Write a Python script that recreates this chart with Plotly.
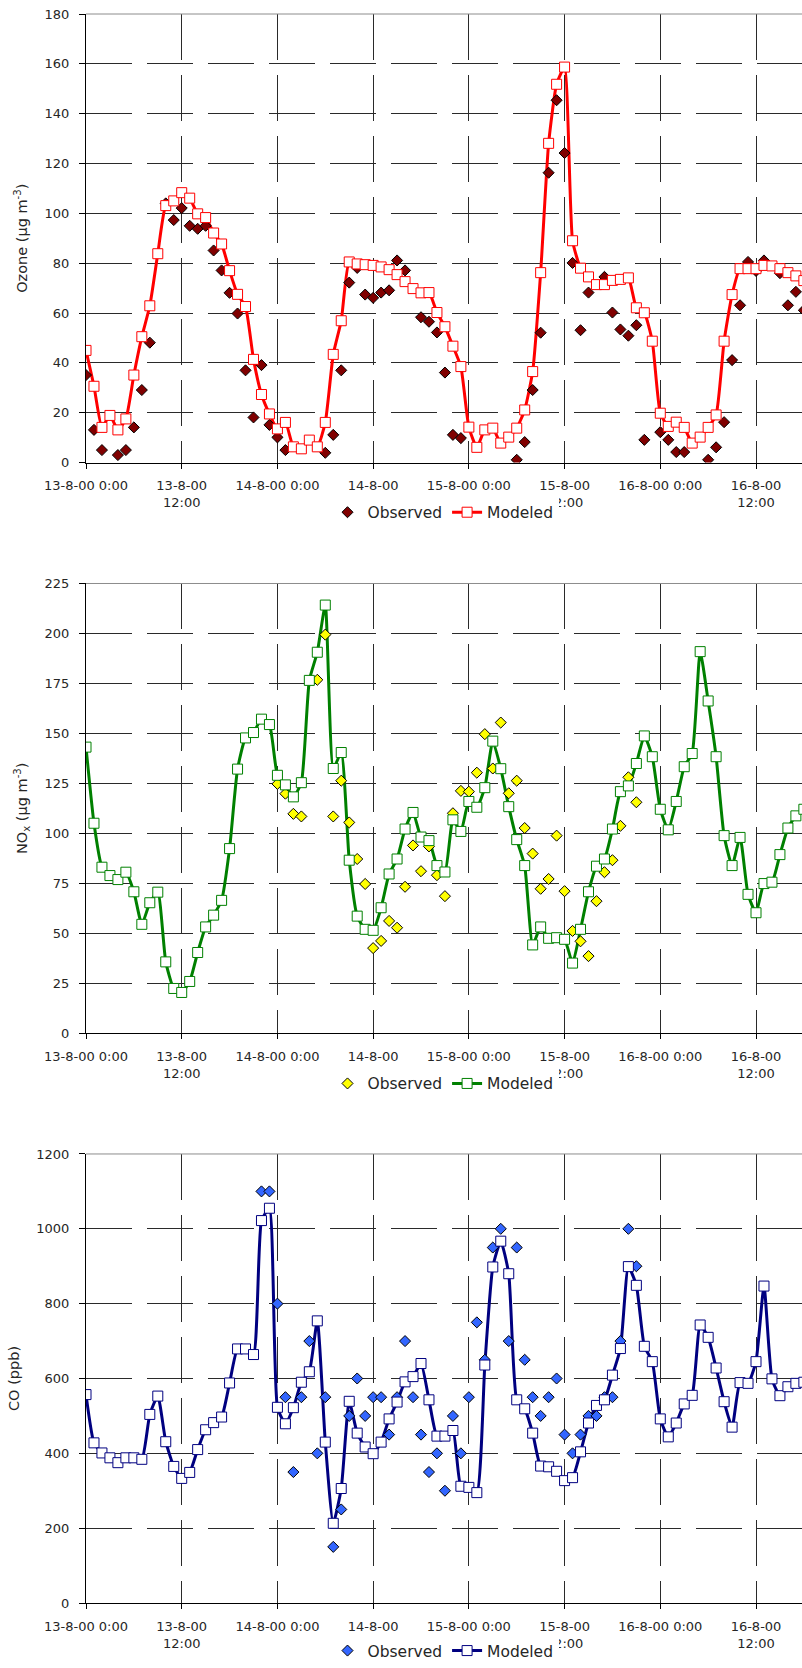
import pandas as pd
import plotly.graph_objects as go

# Hourly time axis, 13-8-2000 00:00 .. 16-8-2000 18:00
TIMES = pd.date_range("2000-08-13 00:00", periods=91, freq="h")

TICK_TIMES = pd.date_range("2000-08-13 00:00", "2000-08-16 12:00", freq="12h")
TICK_LABELS = [
    "13-8-00 0:00", "13-8-00<br>12:00",
    "14-8-00 0:00", "14-8-00",
    "15-8-00 0:00", "15-8-00<br>12:00",
    "16-8-00 0:00", "16-8-00<br>12:00",
]

N = None

OZONE_OBS = [
    35.1, 13.1, 5, N, 3, 5, 14.1, 29.1, 48.1, N,
    104, 97.3, 102.1, 95, 93.8, 95, 85.1, 77.1, 68.1, 59.8,
    37, 18.1, 39.1, 15.1, 10.1, 5, N, N, N, N,
    3.9, 11.1, 37, 72.2, 78.1, 67.4, 66.1, 68.2, 69.1, 81.1,
    77.1, N, 58.3, 56.5, 52.2, 36.1, 11.1, 9.8, N, N,
    N, N, N, N, 1.1, 8.2, 29.1, 52.1, 116.3, 145.4,
    124.2, 80.1, 53.1, 68.2, N, 74.5, 60.2, 53.4, 50.9, 55.1,
    9.1, N, 12.2, 9.1, 4.2, 4.2, N, N, 1.1, 6.1,
    16.2, 41.1, 63.1, 80.5, 76.9, 81.1, N, 76, 63.1, 68.5,
    61.1,
]
OZONE_MOD = [
    45, 30.6, 14.1, 18.9, 13.1, 17.5, 35.1, 50.5, 62.9, 83.8,
    103.1, 105, 108.3, 106.1, 99.8, 98.3, 92.1, 87.7, 77, 67.5,
    62.6, 41.4, 27.3, 19.5, 13.5, 16.1, 6.3, 5.5, 9.0, 6.3,
    16.1, 43.4, 56.9, 80.5, 79.7, 79.4, 79.1, 78.5, 77.4, 75.4,
    72.6, 69.8, 68.1, 68.2, 60.2, 54.5, 46.7, 38.5, 14.2, 6.1,
    13.1, 13.8, 7.8, 10.2, 13.8, 21.1, 36.5, 76.2, 128.1, 151.8,
    158.7, 89, 78, 74.5, 71.4, 71.4, 73.1, 73.5, 74.1, 62.1,
    60.1, 48.7, 19.8, 14.5, 16.2, 14.1, 7.8, 10.2, 14.1, 19.1,
    48.7, 67.4, 77.8, 77.8, 77.8, 79.1, 78.9, 77.8, 76.2, 74.9,
    73,
]

NOX_OBS = [
    N, N, N, N, N, N, N, N, N, N,
    N, N, N, N, N, N, N, N, N, N,
    N, N, N, N, 124.7, 119.8, 109.7, 108.4, N, 176.8,
    199.4, 108.4, 126.3, 105.4, 87.1, 74.6, 42.5, 46.1, 56.1, 52.7,
    73.2, 93.9, 81, 93.4, 79, 68.5, 110, 121.2, 120.8, 130.3,
    149.6, 132.4, 155.4, 120, 126.3, 102.6, 89.8, 72.2, 77.1, 98.8,
    71, 51.1, 45.9, 38.5, 66, 80.5, 86.5, 103.7, 128, 115.5,
    N, N, N, N, N, N, N, N, N, N,
    N, N, N, N, N, N, N, N, N, N,
    N,
]
NOX_MOD = [
    143.1, 105, 83, 78.8, 76.8, 80.5, 70.7, 54.4, 65.2, 70.5,
    35.6, 22.3, 20.3, 25.8, 40.3, 53.1, 59, 66.4, 92.3, 132.1,
    147.7, 150.4, 157.1, 154.4, 129, 124.2, 118.2, 125.3, 176.5, 190.6,
    214.2, 132.4, 140.4, 86.5, 58.5, 51.9, 51.4, 62.7, 79.6, 87.1,
    102.1, 110.4, 98.1, 96.3, 83.8, 80.6, 106.7, 100.9, 115.9, 113,
    122.8, 146.1, 132.3, 113.3, 96.8, 83.8, 44.1, 53.1, 47.4, 47.7,
    46.9, 35, 51.9, 70.7, 83.5, 87.1, 102.1, 120.8, 123.7, 134.9,
    148.7, 138.3, 112, 101.7, 115.9, 133.3, 139.9, 190.9, 166.2, 138.3,
    98.8, 83.8, 97.9, 69.4, 60.2, 74.8, 75.5, 89.3, 102.6, 108.7,
    112,
]

CO_OBS = [
    N, N, N, N, N, N, N, N, N, N,
    N, N, N, N, N, N, N, N, N, N,
    N, N, 1100, 1100, 800, 550, 350, 550, 700, 400,
    550, 150, 250, 500, 600, 500, 550, 550, 450, 550,
    700, 550, 450, 350, 400, 300, 500, 400, 550, 750,
    650, 950, 1000, 700, 950, 650, 550, 500, 550, 600,
    450, 400, 450, 500, 500, 550, 550, 700, 1000, 900,
    N, N, N, N, N, N, N, N, N, N,
    N, N, N, N, N, N, N, N, N, N,
    N,
]
CO_MOD = [
    557, 428, 401, 388, 375, 388, 388, 384, 504, 553,
    431, 365, 333, 349, 410, 463, 482, 497, 588, 679,
    679, 664, 1022, 1055, 523, 479, 522, 590, 618, 754,
    430, 213, 306, 539, 454, 417, 399, 430, 492, 537,
    591, 605, 640, 543, 446, 446, 461, 312, 309, 295,
    636, 898, 967, 880, 543, 519, 454, 366, 364, 352,
    327, 335, 404, 481, 528, 543, 609, 680, 899, 849,
    686, 645, 492, 444, 481, 532, 555, 743, 710, 628,
    538, 470, 589, 587, 645, 847, 599, 554, 578, 587,
    590,
]

PANELS = [
    dict(obs=OZONE_OBS, mod=OZONE_MOD, title="Ozone (µg m<sup>-3</sup>)",
         ymax=180, dtick=20, obs_color="#800000", mod_color="#FF0000",
         domain=[0.71773, 1.0], legend_y=0.6862),
    dict(obs=NOX_OBS, mod=NOX_MOD, title="NO<sub>x</sub> (µg m<sup>-3</sup>)",
         ymax=225, dtick=25, obs_color="#FFFF00", mod_color="#008000",
         domain=[0.35871, 0.64160], legend_y=0.3267),
    dict(obs=CO_OBS, mod=CO_MOD, title="CO (ppb)",
         ymax=1200, dtick=200, obs_color="#3366FF", mod_color="#000080",
         domain=[0.0, 0.28258], legend_y=-0.0305),
]

FONT = "DejaVu Sans"
TEXT_COLOR = "#262626"
GRID_COLOR = "#2a2a2a"
X_START = "2000-08-13 00:00"
X_END = "2000-08-16 17:46"

fig = go.Figure()
layout = dict(
    width=802, height=1668,
    margin=dict(l=86, r=0, t=14, b=58),
    plot_bgcolor="white", paper_bgcolor="white",
    font=dict(family=FONT, size=13, color=TEXT_COLOR),
    shapes=[],
)

for i, p in enumerate(PANELS, start=1):
    sfx = "" if i == 1 else str(i)
    xa, ya = f"x{sfx}", f"y{sfx}"
    leg = f"legend{sfx}"

    # smoothed model line underneath all markers
    fig.add_trace(go.Scatter(
        x=TIMES, y=p["mod"], xaxis=xa, yaxis=ya, mode="lines",
        line=dict(color=p["mod_color"], width=3, shape="spline", smoothing=0.5),
        showlegend=False, hoverinfo="skip", connectgaps=False,
    ))
    # observations
    fig.add_trace(go.Scatter(
        x=TIMES, y=p["obs"], xaxis=xa, yaxis=ya, mode="markers", name="Observed",
        marker=dict(symbol="diamond", size=8.5, color=p["obs_color"],
                    line=dict(color="black", width=1)),
        legend=leg,
    ))
    # model markers on top
    fig.add_trace(go.Scatter(
        x=TIMES, y=p["mod"], xaxis=xa, yaxis=ya, mode="markers", name="Modeled",
        marker=dict(symbol="square", size=10, color="white",
                    line=dict(color=p["mod_color"], width=1)),
        showlegend=False,
    ))
    # legend entry for the modeled series (line + marker)
    fig.add_trace(go.Scatter(
        x=[None], y=[None], xaxis=xa, yaxis=ya, mode="lines+markers", name="Modeled",
        line=dict(color=p["mod_color"], width=3),
        marker=dict(symbol="square", size=10, color="white",
                    line=dict(color=p["mod_color"], width=1)),
        legend=leg,
    ))

    layout[f"xaxis{sfx}"] = dict(
        domain=[0, 1], anchor=ya, type="date", range=[X_START, X_END],
        tickmode="array", tickvals=list(TICK_TIMES), ticktext=TICK_LABELS,
        tickangle=0, ticks="outside", ticklen=5, tickcolor="black",
        ticklabelstandoff=6,
        showline=True, linecolor="black", linewidth=1,
        showgrid=True, gridcolor=GRID_COLOR, gridwidth=1, griddash="46px,15px",
        zeroline=False,
        tickfont=dict(family=FONT, size=13, color=TEXT_COLOR),
    )
    layout[f"yaxis{sfx}"] = dict(
        domain=p["domain"], anchor=xa, range=[0, p["ymax"]], dtick=p["dtick"],
        tick0=0, ticks="outside", ticklen=6, tickcolor="black",
        ticklabelstandoff=7,
        showline=True, linecolor="black", linewidth=1,
        showgrid=True, gridcolor=GRID_COLOR, gridwidth=1, griddash="46px,15px",
        zeroline=False,
        tickfont=dict(family=FONT, size=13, color=TEXT_COLOR),
        title=dict(text=p["title"], font=dict(family=FONT, size=14.5, color=TEXT_COLOR),
                   standoff=13),
    )
    layout[leg] = dict(
        orientation="h", x=(327.5 - 86) / 716, xanchor="left",
        y=p["legend_y"], yanchor="middle",
        bgcolor="white", borderwidth=0,
        font=dict(family=FONT, size=15.5, color=TEXT_COLOR),
        itemwidth=30,
    )
    # plot-area top border
    layout["shapes"].append(dict(
        type="line", xref=f"{xa} domain", yref=f"{ya} domain",
        x0=0, x1=1, y0=1, y1=1, line=dict(color="#8c8c8c", width=1), layer="above",
    ))

fig.update_layout(**layout)
fig.write_html("out.html")
